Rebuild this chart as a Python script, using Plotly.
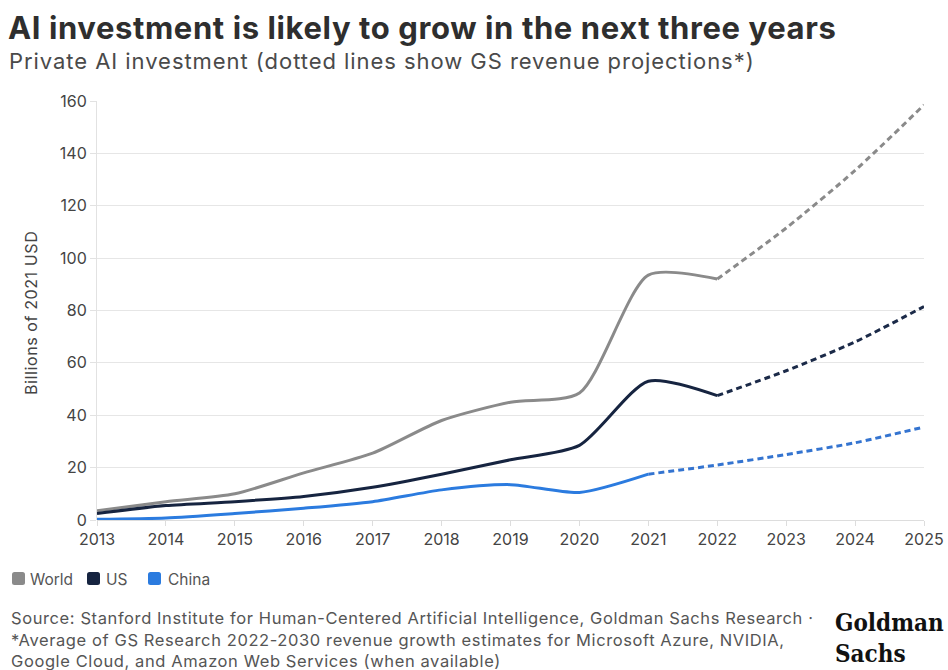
import plotly.graph_objects as go

# Private AI investment, billions of 2021 USD
years = [2013, 2014, 2015, 2016, 2017, 2018, 2019, 2020, 2021, 2022, 2023, 2024, 2025]
world = [3.5, 7.0, 10.0, 18.0, 25.5, 38.0, 45.0, 48.5, 93.5, 92.0, 111.5, 133.5, 158.5]
us = [2.5, 5.5, 7.0, 9.0, 12.5, 17.5, 23.0, 28.5, 53.0, 47.5, 57.0, 68.0, 81.5]
china = [0.3, 0.8, 2.5, 4.5, 7.0, 11.5, 13.5, 10.5, 17.5, 21.0, 25.0, 29.5, 35.5]

# last year of reported data per series; later points are projections
last_actual = {"World": 2022, "US": 2022, "China": 2021}

colors = {"World": "#8a8a8a", "US": "#162440", "China": "#2b7bdf"}
proj_colors = {"World": "#8a8a8a", "US": "#1b2a48", "China": "#3474d0"}
series = {"World": world, "US": us, "China": china}

y_ticks = [0, 20, 40, 60, 80, 100, 120, 140, 160]

W, H = 948, 670
L, R, T, B = 97, 24, 101, 150
PW, PH = W - L - R, H - T - B

FONT = "Inter"
TXT = "#444444"


def px(xp):
    return (xp - L) / PW


def py(yp):
    return (H - B - yp) / PH


def spaced(text, ls):
    return f"<span style='letter-spacing:{ls}px'>{text}</span>"


def rounded_square(x0, y0, size, r):
    """SVG path for a rounded square given in page pixels, returned in paper units."""
    x1, y1 = x0 + size, y0 + size
    pts = [
        f"M{px(x0 + r)},{py(y0)}",
        f"L{px(x1 - r)},{py(y0)}",
        f"Q{px(x1)},{py(y0)} {px(x1)},{py(y0 + r)}",
        f"L{px(x1)},{py(y1 - r)}",
        f"Q{px(x1)},{py(y1)} {px(x1 - r)},{py(y1)}",
        f"L{px(x0 + r)},{py(y1)}",
        f"Q{px(x0)},{py(y1)} {px(x0)},{py(y1 - r)}",
        f"L{px(x0)},{py(y0 + r)}",
        f"Q{px(x0)},{py(y0)} {px(x0 + r)},{py(y0)}",
        "Z",
    ]
    return " ".join(pts)


fig = go.Figure()

for name, vals in series.items():
    cut = years.index(last_actual[name]) + 1
    fig.add_trace(go.Scatter(
        x=years[:cut], y=vals[:cut], mode="lines", name=name,
        line=dict(color=colors[name], width=3, shape="spline", smoothing=0.7),
        showlegend=False, hoverinfo="skip"))
    fig.add_trace(go.Scatter(
        x=years[cut - 1:], y=vals[cut - 1:], mode="lines", name=name + " projection",
        line=dict(color=proj_colors[name], width=3, shape="spline",
                  smoothing=0.7, dash="6px,4px"),
        showlegend=False, hoverinfo="skip"))

fig.update_layout(
    width=W, height=H,
    margin=dict(l=L, r=R, t=T, b=B, autoexpand=False),
    paper_bgcolor="white", plot_bgcolor="white",
    font=dict(family=FONT, color=TXT, size=15),
    showlegend=False,
    xaxis=dict(
        range=[2013, 2025], tickmode="array", tickvals=years,
        ticktext=[str(y) for y in years],
        showgrid=False, zeroline=False,
        showline=False, ticks="outside", ticklen=5, tickcolor="#dddddd",
        tickfont=dict(size=16, color=TXT, family=FONT)),
    yaxis=dict(
        range=[0, 160], tickmode="array", tickvals=y_ticks,
        showgrid=True, gridcolor="#e6e6e6", gridwidth=1,
        zeroline=True, zerolinecolor="#dddddd", zerolinewidth=1,
        showline=True, linecolor="#e2e2e2", linewidth=1,
        ticks="outside", ticklen=6, tickcolor="#e2e2e2",
        tickfont=dict(size=16, color=TXT, family=FONT)),
)

# legend: rounded swatches with labels
legend_items = [("World", 12, 28), ("US", 87, 104), ("China", 148, 166)]
for name, sx, tx in legend_items:
    fig.add_shape(type="path", xref="paper", yref="paper",
                  path=rounded_square(sx, 572, 13, 2.5),
                  fillcolor=colors[name], line=dict(width=0))
    fig.add_annotation(text=name, xref="paper", yref="paper",
                       x=px(tx), y=py(579), xanchor="left", yanchor="middle",
                       showarrow=False,
                       font=dict(size=15.5, color="#555555", family=FONT))

annotations = [
    dict(text=spaced("<b>AI investment is likely to grow in the next three years</b>", 0.6),
         x=px(6), y=py(27), font=dict(size=31, color="#2e2e2e", family=FONT)),
    dict(text=spaced("Private AI investment (dotted lines show GS revenue projections*)", 0.95),
         x=px(7), y=py(61), font=dict(size=22, color="#4a4a4a", family=FONT)),
    dict(text=spaced("Source: Stanford Institute for Human-Centered Artificial Intelligence, Goldman Sachs Research ·", 0.6),
         x=px(9), y=py(618), font=dict(size=16.5, color="#555555", family=FONT)),
    dict(text=spaced("*Average of GS Research 2022-2030 revenue growth estimates for Microsoft Azure, NVIDIA,", 0.6),
         x=px(9), y=py(640), font=dict(size=16.5, color="#555555", family=FONT)),
    dict(text=spaced("Google Cloud, and Amazon Web Services (when available)", 0.6),
         x=px(9), y=py(661), font=dict(size=16.5, color="#555555", family=FONT)),
]
for a in annotations:
    a.update(xref="paper", yref="paper", xanchor="left", yanchor="middle",
             showarrow=False)
    fig.add_annotation(**a)

fig.add_annotation(
    text=spaced("Billions of 2021 USD", 0.6), textangle=-90,
    xref="paper", yref="paper",
    x=px(31), y=py(313), xanchor="center", yanchor="middle", showarrow=False,
    font=dict(size=16, color=TXT, family=FONT))

fig.add_annotation(
    text="<b>Goldman<br>Sachs</b>", xref="paper", yref="paper",
    x=px(833), y=py(638), xanchor="left", yanchor="middle", align="left",
    showarrow=False,
    font=dict(size=24, color="#111111", family="DejaVu Serif Condensed"))

fig.write_html("out.html")
